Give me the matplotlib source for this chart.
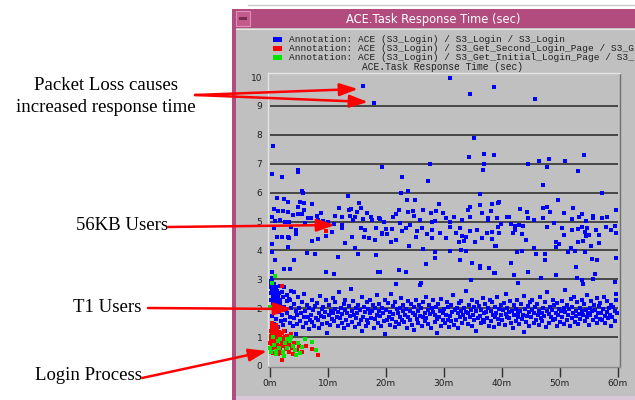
"""
Response time scatter (ACE.Task Response Time) with annotations.
Recreated as a window-like screenshot with matplotlib.
"""

import numpy as np
import matplotlib.pyplot as plt
from matplotlib.patches import Rectangle

# -------------------------------------------------------
# DATA  (x = minutes since start, y = response time in sec)
# -------------------------------------------------------
outliers = [
    (16.1, 9.69), (18.0, 9.1), (0.5, 7.6), (0.3, 6.65), (4.8, 6.8), (4.8, 6.72),
    (2.1, 6.55), (5.7, 6.0), (19.4, 6.9), (13.5, 5.9), (22.8, 6.55), (22.7, 6.0),
    (23.9, 6.05), (27.3, 6.4), (27.6, 7.0), (31.1, 9.96), (34.5, 9.4), (38.6, 9.65),
    (45.8, 9.24), (35.3, 7.9), (34.3, 7.23), (36.9, 7.33), (36.9, 7.0), (36.7, 6.8),
    (38.6, 7.3), (44.6, 7.0), (46.5, 7.1), (48.1, 7.15), (47.8, 6.9), (50.9, 7.1),
    (54.2, 7.3), (53.1, 6.75), (47.1, 6.28), (36.2, 5.95), (57.4, 6.0), (49.8, 5.75),
    (5.6, 6.06),
]

band_56kb = [
    # 0 - 20 min
    (1.15, 5.8), (2.42, 5.78), (3.05, 5.66), (5.13, 5.69), (5.94, 5.65), (7.21, 5.61),
    (4.79, 5.51), (0.75, 5.42), (1.44, 5.36), (2.31, 5.36), (3.17, 5.34), (5.94, 5.41),
    (11.94, 5.46), (13.55, 5.4), (14.0, 5.43), (15.28, 5.65), (15.74, 5.48), (15.0, 5.34),
    (13.44, 5.88), (4.04, 5.22), (4.79, 5.25), (5.48, 5.25), (6.63, 5.11), (7.09, 5.11),
    (8.07, 5.19), (8.36, 5.05), (9.23, 5.02), (10.09, 4.99), (10.96, 4.9), (12.4, 4.88),
    (12.51, 5.17), (13.84, 5.19), (14.59, 5.17), (14.25, 5.05), (15.97, 5.07), (17.47, 5.16),
    (17.59, 5.05), (18.9, 5.11), (19.6, 4.97), (0.4, 5.17), (0.87, 5.02), (1.73, 5.05),
    (2.6, 4.99), (3.29, 4.97), (3.63, 4.82), (0.75, 4.76), (4.44, 4.71), (4.44, 4.57),
    (1.15, 4.48), (2.02, 4.48), (3.06, 4.48), (3.29, 4.42), (7.21, 4.34), (8.36, 4.39),
    (9.63, 4.51), (10.78, 4.65), (12.4, 4.76), (14.13, 4.45), (15.74, 4.76), (16.44, 4.71),
    (16.15, 4.48), (17.13, 4.42), (18.16, 4.36), (18.28, 4.79), (19.32, 4.59), (12.86, 4.25),
    (14.7, 4.07), (0.4, 4.21), (3.17, 4.11), (0.29, 3.96), (6.46, 3.9), (7.79, 3.86),
    (11.71, 3.78), (15.17, 3.88), (18.28, 3.84), (4.21, 3.67), (0.87, 3.67), (2.48, 3.35),
    (3.46, 3.35), (9.63, 3.26), (11.13, 3.17), (18.63, 3.24), (0.29, 3.24), (9.7, 4.9),
    (6.1, 4.95), (8.8, 5.3), (11.2, 5.2), (16.8, 5.3),
    # 20 - 39 min
    (23.64, 5.74), (24.97, 5.74), (29.12, 5.62), (22.32, 5.41), (23.76, 5.34), (24.68, 5.37),
    (26.41, 5.41), (27.8, 5.3), (28.72, 5.37), (21.8, 5.25), (24.8, 5.2), (21.16, 5.14),
    (19.03, 5.07), (25.95, 5.04), (27.97, 4.97), (28.55, 5.02), (30.45, 5.11), (31.83, 5.14),
    (31.14, 4.97), (22.37, 4.94), (24.22, 4.88), (26.24, 4.79), (23.53, 4.76), (20.07, 4.73),
    (21.11, 4.75), (22.78, 4.67), (25.37, 4.68), (27.1, 4.58), (27.97, 4.71), (29.41, 4.6),
    (31.14, 4.82), (32.87, 4.76), (34.49, 4.68), (35.75, 4.71), (37.48, 4.59), (38.35, 4.62),
    (20.18, 4.57), (19.32, 4.58), (25.26, 4.48), (27.97, 4.44), (30.45, 4.42), (32.18, 4.59),
    (33.16, 4.5), (33.91, 4.45), (32.58, 4.3), (33.45, 4.33), (35.47, 4.3), (36.62, 4.42),
    (38.35, 4.39), (21.8, 4.35), (20.93, 4.3), (23.93, 4.14), (26.41, 4.05), (28.43, 3.96),
    (31.03, 3.98), (32.99, 4.01), (33.91, 3.98), (38.93, 4.14), (34.49, 5.51), (34.14, 5.39),
    (36.22, 5.57), (36.62, 5.28), (38.35, 5.59), (38.18, 5.36), (39.5, 5.66), (34.49, 5.14),
    (37.6, 5.13), (37.6, 5.05), (39.21, 5.11), (39.33, 4.82), (36.33, 5.94), (28.43, 3.75),
    (32.76, 3.68), (34.89, 3.58), (36.33, 3.47), (36.22, 3.38), (37.77, 3.38), (38.75, 3.21),
    (26.99, 3.54), (22.2, 3.31), (23.53, 3.24), (21.8, 2.85), (26.07, 2.88), (25.83, 2.8),
    (34.72, 2.98), (19.03, 3.25), (29.9, 5.3), (33.2, 5.05),
    # 39 - 60 min
    (39.39, 5.65), (43.08, 5.42), (44.41, 5.34), (47.12, 5.48), (47.75, 5.51), (48.27, 5.32),
    (52.31, 5.48), (50.75, 5.28), (53.92, 5.25), (53.35, 5.14), (55.77, 5.2), (55.77, 5.11),
    (57.27, 5.11), (58.25, 5.14), (59.81, 5.39), (39.22, 5.11), (40.95, 5.14), (41.24, 5.14),
    (44.58, 5.11), (45.56, 5.05), (47.12, 5.11), (49.02, 4.94), (52.19, 5.09), (54.62, 5.03),
    (39.8, 4.9), (41.53, 4.91), (42.27, 4.84), (42.97, 4.88), (43.72, 4.84), (39.39, 4.82),
    (47.87, 4.81), (50.35, 4.79), (52.08, 4.71), (53.23, 4.74), (53.92, 4.81), (54.79, 4.76),
    (56.23, 4.71), (57.96, 4.81), (58.83, 4.71), (59.58, 4.86), (41.93, 4.6), (43.54, 4.57),
    (39.51, 4.59), (42.22, 4.71), (50.75, 4.53), (54.39, 4.65), (55.08, 4.53), (56.81, 4.53),
    (59.81, 4.61), (44.24, 4.36), (49.31, 4.3), (49.89, 4.21), (53.23, 4.3), (54.04, 4.34),
    (54.5, 4.51), (56.81, 4.27), (49.31, 4.11), (51.91, 4.07), (52.66, 3.98), (55.37, 4.15),
    (51.5, 3.93), (47.47, 3.88), (45.97, 3.86), (43.43, 3.98), (42.68, 3.93), (39.05, 4.14),
    (45.56, 4.07), (54.39, 3.93), (55.65, 3.7), (56.52, 3.67), (59.81, 3.75), (47.47, 3.67),
    (41.53, 3.58), (52.89, 3.41), (44.58, 3.24), (42.1, 3.15), (49.43, 3.15), (56.12, 3.18),
    (59.58, 2.92), (38.93, 3.21), (46.72, 3.03), (52.94, 3.03), (53.92, 2.98), (55.77, 3.01),
    (54.04, 2.83), (42.85, 2.88),
]

band_t1 = [
    (0.1, 2.05), (0.3, 1.72), (0.5, 2.38), (0.6, 1.45), (0.8, 2.6), (0.9, 1.9), (0.2, 2.75), (0.7, 2.2),
    (1.1, 1.62), (1.3, 2.1), (1.4, 1.35), (1.6, 1.88), (1.8, 2.3), (1.9, 1.55), (1.5, 2.52),
    (2.1, 1.78), (2.3, 1.42), (2.4, 2.05), (2.6, 1.6), (2.8, 1.95), (2.9, 2.25), (2.5, 1.2),
    (3.0, 1.85), (3.2, 2.32), (3.4, 1.5), (3.5, 1.7), (3.7, 2.0), (3.9, 1.38), (3.6, 2.6),
    (4.1, 1.65), (4.2, 2.15), (4.4, 1.9), (4.6, 1.45), (4.7, 1.75), (4.9, 2.4), (4.5, 1.1),
    (5.0, 2.0), (5.2, 1.55), (5.3, 1.82), (5.5, 2.22), (5.7, 1.35), (5.8, 1.68), (5.9, 2.48),
    (6.1, 1.92), (6.2, 1.48), (6.4, 2.12), (6.5, 1.7), (6.7, 1.28), (6.8, 2.0), (6.9, 1.6),
    (7.0, 1.78), (7.2, 2.3), (7.3, 1.52), (7.5, 1.95), (7.6, 1.4), (7.8, 2.08), (7.9, 1.65),
    (8.1, 2.18), (8.2, 1.58), (8.4, 1.85), (8.5, 1.32), (8.7, 2.42), (8.8, 1.72), (8.9, 1.98),
    (9.0, 1.45), (9.2, 2.05), (9.3, 1.68), (9.5, 1.88), (9.6, 2.28), (9.8, 1.5), (9.9, 1.15),
    (10.1, 1.75), (10.2, 2.12), (10.4, 1.42), (10.6, 1.92), (10.7, 1.62), (10.8, 2.35), (10.9, 1.82),
    (11.0, 1.55), (11.2, 1.98), (11.3, 2.22), (11.5, 1.7), (11.7, 1.38), (11.8, 1.88), (11.9, 2.55),
    (12.1, 1.65), (12.2, 2.02), (12.4, 1.48), (12.5, 1.8), (12.7, 2.15), (12.8, 1.3), (12.9, 1.95),
    (13.0, 2.3), (13.2, 1.6), (13.3, 1.85), (13.5, 1.42), (13.6, 2.08), (13.8, 1.72), (13.9, 2.68),
    (14.1, 1.9), (14.2, 1.52), (14.4, 2.25), (14.5, 1.78), (14.7, 1.35), (14.8, 2.0), (14.9, 1.65),
    (15.0, 1.82), (15.2, 2.12), (15.3, 1.45), (15.5, 1.95), (15.7, 1.6), (15.8, 2.38), (15.9, 1.2),
    (16.1, 1.7), (16.2, 2.05), (16.4, 1.88), (16.5, 1.4), (16.7, 2.2), (16.8, 1.58), (16.9, 1.98),
    (17.0, 1.5), (17.2, 1.85), (17.3, 2.3), (17.5, 1.65), (17.6, 1.92), (17.8, 2.1), (17.9, 1.33),
    (18.1, 2.0), (18.2, 1.62), (18.4, 1.78), (18.5, 2.45), (18.7, 1.48), (18.8, 1.9), (18.9, 2.15),
    (19.0, 1.72), (19.2, 1.38), (19.3, 2.02), (19.5, 1.85), (19.6, 1.55), (19.8, 2.28), (19.9, 1.12),
    (20.1, 1.95), (20.2, 1.58), (20.4, 2.18), (20.5, 1.68), (20.7, 1.42), (20.8, 1.88), (20.9, 2.5),
    (21.0, 1.62), (21.2, 2.08), (21.3, 1.8), (21.5, 1.35), (21.6, 2.22), (21.8, 1.52), (21.9, 1.98),
    (22.1, 1.85), (22.2, 1.45), (22.4, 2.0), (22.5, 1.7), (22.7, 2.35), (22.8, 1.6), (22.9, 1.9),
    (23.0, 2.12), (23.2, 1.52), (23.3, 1.75), (23.5, 1.98), (23.6, 1.3), (23.8, 2.25), (23.9, 1.68),
    (24.1, 1.58), (24.2, 1.92), (24.4, 2.15), (24.5, 1.42), (24.7, 1.82), (24.8, 2.05), (24.9, 1.25),
    (25.0, 1.78), (25.2, 2.3), (25.3, 1.62), (25.5, 1.9), (25.6, 1.48), (25.8, 2.1), (25.9, 1.72),
    (26.1, 2.02), (26.2, 1.38), (26.4, 1.7), (26.5, 2.2), (26.7, 1.55), (26.8, 1.85), (26.9, 2.4),
    (27.0, 1.65), (27.2, 1.95), (27.3, 1.45), (27.5, 2.12), (27.6, 1.8), (27.8, 1.32), (27.9, 2.0),
    (28.1, 1.88), (28.2, 2.28), (28.4, 1.52), (28.5, 1.75), (28.7, 2.05), (28.8, 1.62), (28.9, 1.15),
    (29.0, 2.15), (29.2, 1.7), (29.3, 1.92), (29.5, 1.4), (29.6, 2.32), (29.8, 1.82), (29.9, 1.58),
    (30.1, 1.98), (30.2, 1.48), (30.4, 1.78), (30.5, 2.22), (30.7, 1.6), (30.8, 2.05), (30.9, 1.35),
    (31.0, 1.72), (31.2, 2.1), (31.3, 1.55), (31.5, 1.88), (31.6, 2.45), (31.8, 1.42), (31.9, 1.95),
    (32.1, 1.6), (32.2, 2.02), (32.4, 1.82), (32.5, 1.3), (32.7, 2.18), (32.8, 1.68), (32.9, 1.9),
    (33.0, 2.25), (33.2, 1.5), (33.3, 1.75), (33.5, 2.0), (33.6, 1.62), (33.8, 1.88), (33.9, 2.6),
    (34.1, 1.45), (34.2, 1.85), (34.4, 2.12), (34.5, 1.7), (34.7, 1.95), (34.8, 1.38), (34.9, 2.3),
    (35.0, 1.78), (35.2, 1.58), (35.3, 2.05), (35.5, 1.9), (35.6, 1.22), (35.8, 2.2), (35.9, 1.65),
    (36.1, 2.08), (36.2, 1.72), (36.4, 1.48), (36.5, 1.95), (36.7, 2.35), (36.8, 1.6), (36.9, 1.82),
    (37.0, 1.52), (37.2, 2.15), (37.3, 1.88), (37.5, 1.65), (37.6, 2.02), (37.8, 1.4), (37.9, 2.28),
    (38.1, 1.92), (38.2, 1.55), (38.4, 2.22), (38.5, 1.75), (38.7, 1.35), (38.8, 2.05), (38.9, 1.68),
    (39.0, 1.85), (39.2, 2.38), (39.3, 1.62), (39.5, 1.98), (39.6, 1.45), (39.8, 1.78), (39.9, 2.12),
    (40.1, 1.58), (40.2, 1.95), (40.4, 2.18), (40.5, 1.42), (40.7, 1.8), (40.8, 2.5), (40.9, 1.7),
    (41.0, 2.02), (41.2, 1.65), (41.3, 1.88), (41.5, 2.25), (41.6, 1.5), (41.8, 1.92), (41.9, 1.3),
    (42.1, 1.75), (42.2, 2.1), (42.4, 1.55), (42.5, 1.98), (42.7, 2.3), (42.8, 1.68), (42.9, 1.85),
    (43.0, 1.45), (43.2, 1.9), (43.3, 2.15), (43.5, 1.62), (43.6, 1.78), (43.8, 2.42), (43.9, 1.18),
    (44.1, 1.98), (44.2, 1.52), (44.4, 1.72), (44.5, 2.08), (44.7, 1.88), (44.8, 1.4), (44.9, 2.2),
    (45.0, 1.68), (45.2, 2.28), (45.3, 1.95), (45.5, 1.5), (45.6, 1.82), (45.8, 2.05), (45.9, 1.6),
    (46.1, 2.15), (46.2, 1.78), (46.4, 1.42), (46.5, 1.92), (46.7, 2.38), (46.8, 1.65), (46.9, 1.85),
    (47.0, 1.55), (47.2, 2.0), (47.3, 1.72), (47.5, 2.22), (47.6, 1.35), (47.8, 1.9), (47.9, 2.55),
    (48.1, 1.8), (48.2, 1.48), (48.4, 2.05), (48.5, 1.68), (48.7, 1.95), (48.8, 2.3), (48.9, 1.58),
    (49.0, 2.1), (49.2, 1.62), (49.3, 1.85), (49.5, 1.4), (49.6, 2.18), (49.8, 1.75), (49.9, 1.98),
    (50.1, 1.52), (50.2, 1.92), (50.4, 2.25), (50.5, 1.7), (50.7, 1.45), (50.8, 2.02), (50.9, 2.62),
    (51.0, 1.88), (51.2, 1.58), (51.3, 2.12), (51.5, 1.78), (51.6, 1.98), (51.8, 1.38), (51.9, 2.32),
    (52.1, 1.65), (52.2, 2.05), (52.4, 1.85), (52.5, 2.4), (52.7, 1.52), (52.8, 1.92), (52.9, 1.72),
    (53.0, 2.2), (53.2, 1.45), (53.3, 1.8), (53.5, 2.0), (53.6, 1.62), (53.8, 2.3), (53.9, 1.9),
    (54.1, 1.75), (54.2, 2.15), (54.4, 1.55), (54.5, 1.95), (54.7, 2.45), (54.8, 1.68), (54.9, 1.85),
    (55.0, 1.42), (55.2, 2.02), (55.3, 1.78), (55.5, 2.25), (55.6, 1.9), (55.8, 1.6), (55.9, 2.1),
    (56.1, 1.95), (56.2, 1.7), (56.4, 2.35), (56.5, 1.5), (56.7, 1.85), (56.8, 2.08), (56.9, 1.62),
    (57.0, 2.18), (57.2, 1.82), (57.3, 1.58), (57.5, 1.98), (57.6, 2.4), (57.8, 1.72), (57.9, 1.48),
    (58.1, 1.88), (58.2, 2.25), (58.4, 1.65), (58.5, 2.02), (58.7, 1.78), (58.8, 1.4), (58.9, 2.12),
    (59.1, 1.7), (59.3, 2.05), (59.5, 1.92), (59.6, 1.55), (59.8, 2.28), (59.9, 1.82), (59.7, 2.5),
    # dense start-up column
    (0.1, 2.95), (0.2, 2.8), (0.3, 2.62), (0.4, 2.9), (0.5, 2.7), (0.6, 2.48), (0.7, 2.85),
    (0.8, 2.55), (0.9, 2.35), (1.0, 2.72), (1.1, 2.45), (1.2, 2.6), (1.3, 2.25), (1.4, 2.42),
    (0.15, 2.3), (0.25, 2.52), (0.45, 2.18), (0.65, 2.05), (0.85, 2.12), (1.05, 2.02),
    (1.6, 2.3), (1.8, 2.15), (2.0, 2.55), (2.2, 2.4), (2.4, 2.72), (0.35, 3.05), (3.0, 2.45),
    (3.5, 2.3), (4.2, 2.55), (1.7, 2.78),
]

red_login = [
    (0.1, 1.2), (0.2, 0.95), (0.3, 1.35), (0.3, 0.75), (0.4, 1.1), (0.5, 0.85), (0.5, 1.25),
    (0.6, 0.65), (0.7, 1.0), (0.8, 1.3), (0.8, 0.78), (0.9, 1.12), (1.0, 0.9), (1.0, 0.6),
    (1.1, 1.22), (1.2, 0.82), (1.3, 1.05), (1.3, 0.55), (1.4, 0.95), (1.5, 1.18), (1.5, 0.7),
    (1.6, 0.88), (1.7, 1.08), (1.8, 0.62), (1.9, 0.98), (2.0, 0.8), (2.1, 1.15), (2.2, 0.68),
    (2.3, 0.92), (2.5, 0.75), (2.6, 1.02), (2.8, 0.58), (3.0, 0.85), (3.2, 0.72), (3.5, 0.95),
    (3.8, 0.62), (4.2, 0.78), (4.6, 0.55), (5.0, 0.7), (5.5, 0.48), (6.2, 0.69), (7.2, 0.58),
    (8.2, 0.38), (2.1, 0.21), (0.3, 1.48), (0.15, 0.55), (0.45, 0.45), (0.65, 1.4), (0.95, 1.42),
    (1.25, 1.32), (0.25, 1.05), (0.55, 0.98), (0.75, 0.72), (1.05, 0.78), (1.35, 0.68),
    (1.65, 0.52), (1.15, 1.0), (0.85, 0.92), (2.4, 1.2), (2.7, 0.88), (3.3, 0.5), (0.05, 0.8),
    (1.9, 0.45), (4.0, 0.42), (1.4, 0.4), (3.6, 1.1), (0.4, 0.62), (2.9, 1.05), (2.1, 2.78),
    (9.7, 4.68),
]

green_login = [
    (0.9, 3.13), (0.3, 2.88), (0.0, 2.05), (0.0, 0.61), (0.2, 0.5), (0.6, 0.72), (1.0, 0.52),
    (1.3, 0.85), (1.6, 0.62), (1.8, 0.95), (2.2, 0.48), (2.4, 0.35), (2.6, 0.78), (3.0, 0.62),
    (3.4, 0.88), (3.6, 0.99), (3.9, 0.7), (4.3, 0.55), (4.8, 0.8), (5.2, 0.44), (5.6, 0.65),
    (6.0, 0.92), (7.2, 0.82), (8.0, 0.55), (0.5, 1.0), (1.1, 0.4), (2.9, 0.95), (4.5, 0.38),
]

y_ticks = list(range(0, 11))
x_ticks = [0, 10, 20, 30, 40, 50, 60]
x_labels = ["0m", "10m", "20m", "30m", "40m", "50m", "60m"]

# legend lines as far as they are visible inside the window
legend_labels = [
    "Annotation: ACE (S3_Login) / S3_Login / S3_Login",
    "Annotation: ACE (S3_Login) / S3_Get_Second_Login_Page / S3_G",
    "Annotation: ACE (S3_Login) / S3_Get_Initial_Login_Page / S3_",
]

BLUE = "#0000ff"
RED = "#ff0000"
GREEN = "#00e600"
PANEL = "#c0c0c0"
TITLEBAR = "#b24c7e"

W, H = 635, 400
fig = plt.figure(figsize=(W / 100, H / 100), dpi=100)
fig.patch.set_facecolor("white")

# ---------- window chrome (pixel coordinates) ----------
bg = fig.add_axes([0, 0, 1, 1], zorder=0)
bg.set_xlim(0, W)
bg.set_ylim(H, 0)
bg.axis("off")
bg.plot([248, W], [5, 5], color="#c8c8c8", lw=1)
bg.add_patch(Rectangle((232, 9), W - 232, 392, facecolor=TITLEBAR, edgecolor="none"))
bg.add_patch(Rectangle((236, 28), W - 236, 368, facecolor=PANEL, edgecolor="none"))
bg.plot([236, W], [28.5, 28.5], color="#e6e6e6", lw=0.8)
bg.add_patch(Rectangle((236, 396), W - 236, 5, facecolor="#d8c8d8", edgecolor="none"))
# window menu button
bg.add_patch(Rectangle((236, 11), 14, 15, facecolor="#c25c8c", edgecolor="#e090b8", lw=0.8))
bg.add_patch(Rectangle((239, 17), 8, 2.5, facecolor="#7a2c52", edgecolor="none"))
bg.text(433, 19, "ACE.Task Response Time (sec)", color="white", fontsize=8.3,
        ha="center", va="center", family="DejaVu Sans")

# legend block
for i, (lab, col) in enumerate(zip(legend_labels, [BLUE, RED, GREEN])):
    yy = 39 + i * 9.2
    bg.add_patch(Rectangle((273, yy - 2.5), 9, 5, facecolor=col, edgecolor="none"))
    bg.text(289, yy, lab, fontsize=6.8, family="Liberation Mono", color="#202020",
            ha="left", va="center")
bg.text(443, 67, "ACE.Task Response Time (sec)", fontsize=6.9, family="Liberation Mono",
        color="#202020", ha="center", va="center")

# ---------- scatter plot ----------
ax = fig.add_axes([268 / W, 1 - 367 / H, 352 / W, 294 / H], zorder=1)
ax.set_facecolor(PANEL)
ax.set_xlim(-0.35, 60.43)
ax.set_ylim(-0.035, 10.14)

for yv in y_ticks[1:-1]:
    ax.hlines(yv, 0, 60, color="#262626", lw=1.1, zorder=1)

groups = [(outliers, BLUE), (band_56kb, BLUE), (band_t1, BLUE),
          (red_login, RED), (green_login, GREEN)]
for pts, col in groups:
    arr = np.array(pts)
    ax.plot(arr[:, 0], arr[:, 1], "s", color=col, markersize=2.9,
            markeredgewidth=0, zorder=3)

ax.set_yticks(y_ticks)
ax.set_yticklabels([str(v) for v in y_ticks])
ax.set_xticks(x_ticks)
ax.set_xticklabels(x_labels)
ax.tick_params(axis="y", length=0, pad=4, labelsize=6.5, labelcolor="#202020")
ax.tick_params(axis="x", length=7, width=1, direction="out", color="#303030",
               pad=2, labelsize=6.5, labelcolor="#202020")
ax.spines["left"].set_color("#e4e4e4")
ax.spines["top"].set_color("#e4e4e4")
ax.spines["bottom"].set_color("#8a8a8a")
ax.spines["right"].set_color("#707070")
for s in ax.spines.values():
    s.set_linewidth(1)

# ---------- annotations (pixel coordinates) ----------
fg = fig.add_axes([0, 0, 1, 1], zorder=5)
fg.set_xlim(0, W)
fg.set_ylim(H, 0)
fg.patch.set_alpha(0)
fg.axis("off")

serif = dict(family="Liberation Serif", fontsize=13.5, color="black")
fg.text(106, 86, "Packet Loss causes", ha="center", va="center", **serif)
fg.text(106, 108, "increased response time", ha="center", va="center", **serif)
fg.text(168, 225, "56KB Users", ha="right", va="center", **serif)
fg.text(141, 308, "T1 Users", ha="right", va="center", **serif)
fg.text(142, 375, "Login Process", ha="right", va="center", **serif)

arrow_style = dict(arrowstyle="-|>,head_length=1.1,head_width=0.38", color=RED,
                   lw=1.8, shrinkA=0, shrinkB=0, mutation_scale=10)
arrows = [((195, 95), (358, 89)), ((195, 95), (368, 102)), ((168, 227), (335, 225)),
          ((148, 308), (292, 309)), ((142, 378), (267, 351))]
for start, end in arrows:
    fg.annotate("", xy=end, xytext=start, arrowprops=arrow_style)

fig.savefig("out.png", dpi=100, facecolor=fig.get_facecolor())
plt.close(fig)
